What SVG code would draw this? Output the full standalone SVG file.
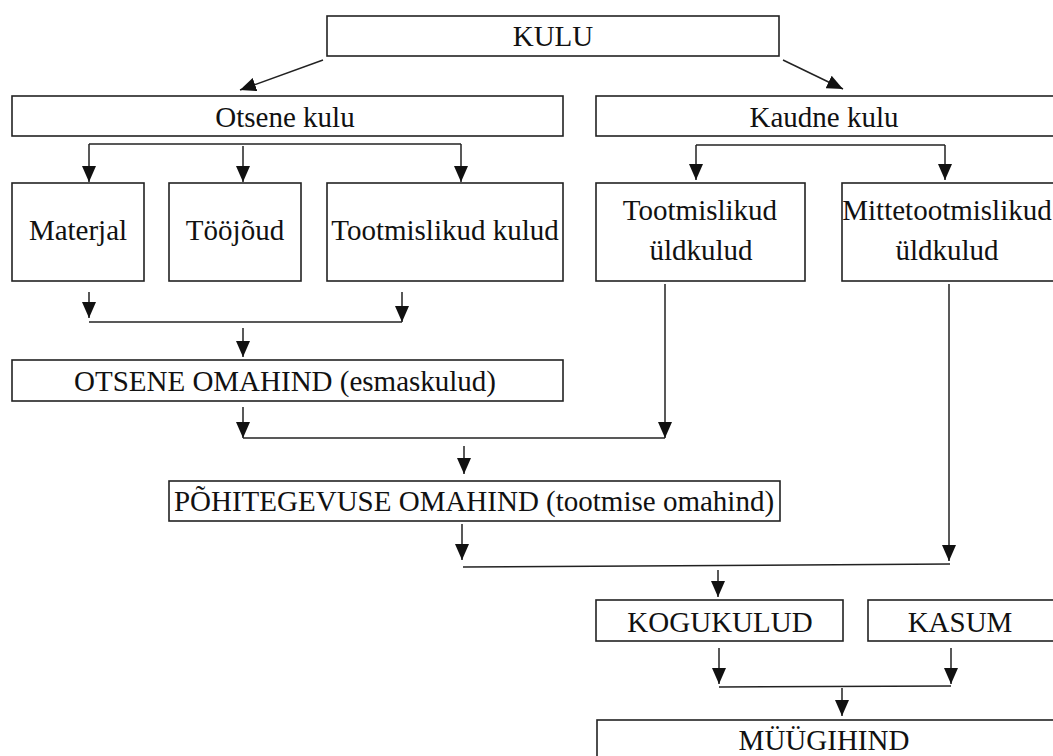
<svg xmlns="http://www.w3.org/2000/svg" width="1053" height="756" viewBox="0 0 1053 756">
  <style>
    .box { fill: #fff; stroke: #222; stroke-width: 1.6; }
    .lbl { font-family: "Liberation Serif", "Times New Roman", serif; font-size: 29px; fill: #111; text-anchor: middle; }
    .wire { fill: none; stroke: #222; stroke-width: 1.5; }
    .arr { fill: none; stroke: #222; stroke-width: 1.5; marker-end: url(#head); }
  </style>
  <defs>
    <marker id="head" markerUnits="userSpaceOnUse" markerWidth="16" markerHeight="14" refX="16" refY="7" orient="auto">
      <path d="M0,0 L16,7 L0,14 z" fill="#111"/>
    </marker>
  </defs>
  <rect width="1053" height="756" fill="#fff"/>

  <!-- connectors -->
  <g id="connectors">
    <line class="arr" x1="323" y1="60" x2="240" y2="90"/>
    <line class="arr" x1="783" y1="60" x2="843" y2="89"/>

    <path class="wire" d="M89,144 H461"/>
    <path class="arr" d="M89,144 V182"/>
    <path class="arr" d="M243,146 V182"/>
    <path class="arr" d="M461,144 V182"/>

    <path class="wire" d="M696,145 H945"/>
    <path class="arr" d="M696,145 V180"/>
    <path class="arr" d="M945,145 V180"/>

    <path class="arr" d="M89,292 V318"/>
    <path class="arr" d="M402,292 V322"/>
    <path class="wire" d="M89,322 H402"/>
    <path class="arr" d="M243,328 V357"/>

    <path class="arr" d="M243,407 V438"/>
    <path class="wire" d="M243,438 H665"/>
    <path class="arr" d="M665,284 V438"/>

    <path class="arr" d="M464,446 V474"/>

    <path class="arr" d="M462,524 V560"/>
    <path class="wire" d="M463,567 L950,564"/>
    <path class="arr" d="M949,284 V561"/>

    <path class="arr" d="M718,570 V597"/>

    <path class="arr" d="M719,648 V684"/>
    <path class="arr" d="M951,648 V684"/>
    <path class="wire" d="M719,687 L951,686"/>
    <path class="arr" d="M842,688 V716"/>
  </g>

  <g id="kulu">
    <rect class="box" x="327" y="16" width="452" height="40"/>
    <text class="lbl" x="553" y="46">KULU</text>
  </g>
  <g id="otsene-kulu">
    <rect class="box" x="12" y="96" width="551" height="40"/>
    <text class="lbl" x="285" y="127">Otsene kulu</text>
  </g>
  <g id="kaudne-kulu">
    <rect class="box" x="596" y="96" width="470" height="40"/>
    <text class="lbl" x="824" y="127">Kaudne kulu</text>
  </g>
  <g id="materjal">
    <rect class="box" x="12" y="183" width="132" height="98"/>
    <text class="lbl" x="78" y="240">Materjal</text>
  </g>
  <g id="toojoud">
    <rect class="box" x="169" y="183" width="132" height="98"/>
    <text class="lbl" x="235" y="240">Tööjõud</text>
  </g>
  <g id="tootmislikud-kulud">
    <rect class="box" x="327" y="183" width="236" height="98"/>
    <text class="lbl" x="445" y="240">Tootmislikud kulud</text>
  </g>
  <g id="tootmislikud-uldkulud">
    <rect class="box" x="596" y="183" width="209" height="98"/>
    <text class="lbl" x="700" y="220">Tootmislikud</text>
    <text class="lbl" x="701" y="260">üldkulud</text>
  </g>
  <g id="mittetootmislikud-uldkulud">
    <rect class="box" x="842" y="183" width="230" height="98"/>
    <text class="lbl" x="947" y="220">Mittetootmislikud</text>
    <text class="lbl" x="947" y="260">üldkulud</text>
  </g>
  <g id="otsene-omahind">
    <rect class="box" x="12" y="360" width="551" height="41"/>
    <text class="lbl" x="285" y="391">OTSENE OMAHIND (esmaskulud)</text>
  </g>
  <g id="pohitegevuse-omahind">
    <rect class="box" x="169" y="481" width="611" height="40"/>
    <text class="lbl" x="474" y="511">PÕHITEGEVUSE OMAHIND (tootmise omahind)</text>
  </g>
  <g id="kogukulud">
    <rect class="box" x="596" y="600" width="247" height="41"/>
    <text class="lbl" x="720" y="632">KOGUKULUD</text>
  </g>
  <g id="kasum">
    <rect class="box" x="868" y="600" width="200" height="41"/>
    <text class="lbl" x="960" y="632">KASUM</text>
  </g>
  <g id="muugihind">
    <rect class="box" x="597" y="720" width="470" height="60"/>
    <text class="lbl" x="824" y="750">MÜÜGIHIND</text>
  </g>
</svg>
